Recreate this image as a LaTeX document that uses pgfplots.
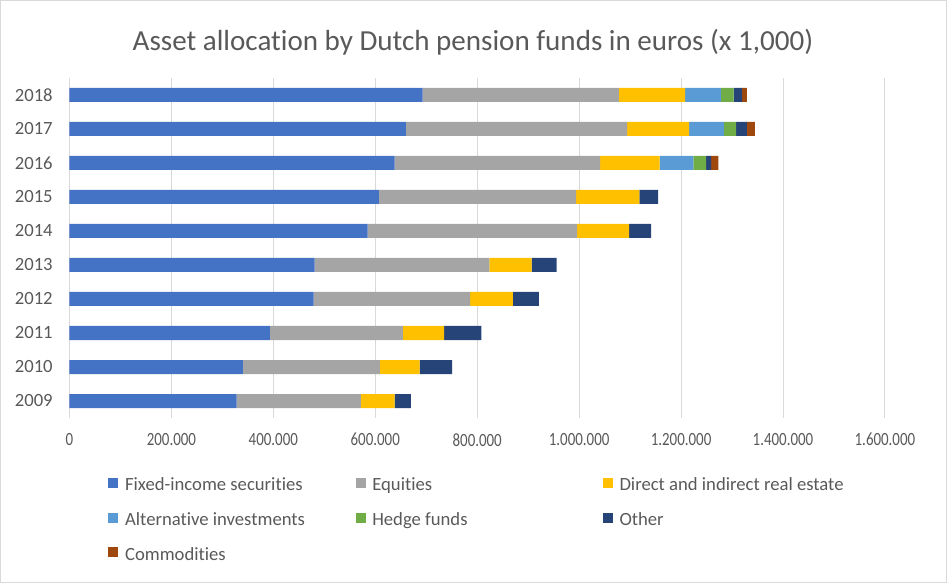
\documentclass[border=0pt]{standalone}
\usepackage{pgfplots}
\pgfplotsset{compat=1.18}
\usepackage{pgfplotstable}
\usepackage{graphicx}
\usepackage{fontspec}
\setmainfont{Carlito}[Ligatures=NoCommon]

\definecolor{txt}{HTML}{595959}
\definecolor{gridc}{HTML}{D9D9D9}
\definecolor{cFix}{HTML}{4472C4}
\definecolor{cEq}{HTML}{A5A5A5}
\definecolor{cRE}{HTML}{FFC000}
\definecolor{cAlt}{HTML}{5B9BD5}
\definecolor{cHedge}{HTML}{70AD47}
\definecolor{cOther}{HTML}{264478}
\definecolor{cComm}{HTML}{9E480E}

% x 1,000 euros
\pgfplotstableread{
year fixed  equities realestate alternative hedge other commodities
2009 328000 244000   66000      0           0     32000 0
2010 340000 269000   78000      0           0     64000 0
2011 393000 261000   81000      0           0     73000 0
2012 479000 307000   84000      0           0     51000 0
2013 481000 343000   83000      0           0     49000 0
2014 585000 411000   102000     0           0     43000 0
2015 607000 387000   124000     0           0     37000 0
2016 638000 403000   117000     66000       25000 10000 14000
2017 660000 434000   122000     68000       24000 21000 16000
2018 693000 385000   130000     70000       25000 17000 9000
}\assets

\begin{document}
\begin{tikzpicture}[x=1pt,y=1pt]
\useasboundingbox (0,0) rectangle (710.25,437.25);
\draw[gridc, line width=0.75pt] (0.375,0.375) rectangle (709.875,436.875);
\node[text=txt, font=\fontsize{21.8}{26}\selectfont, anchor=base, inner sep=0pt]
  at (354.75,399.6) {Asset allocation by Dutch pension funds in euros (x 1,000)};
\begin{axis}[
  at={(52.1pt,123.75pt)}, anchor=south west,
  scale only axis, width=611.6pt, height=255pt,
  xbar stacked, bar width=10.5pt,
  xmin=0, xmax=1600000, ymin=-0.5, ymax=9.5,
  xtick={0,200000,400000,600000,800000,1000000,1200000,1400000,1600000},
  scaled x ticks=false,
  /pgf/number format/.cd, fixed, precision=0, 1000 sep={.}, assume math mode=true, /pgfplots/.cd,
  xticklabel={\scalebox{0.8}[1]{\pgfmathprintnumber{\tick}}},
  xticklabel style={font=\fontsize{14}{16}\selectfont, text=txt, inner sep=0pt, yshift=-11.25pt},
  ytick={0,...,9},
  yticklabels from table={\assets}{year},
  yticklabel style={font=\fontsize{14}{16}\selectfont, text=txt, inner sep=0pt, xshift=-12.4pt},
  xmajorgrids, grid style={gridc, line width=0.75pt},
  axis line style={draw=none}, tick style={draw=none},
  legend columns=3,
  legend cell align=left,
  legend style={at={(axis description cs:0.0478,-0.1735)}, anchor=north west,
    draw=none, fill=none, inner sep=0pt, outer sep=0pt, row sep=12.4pt, column sep=0pt,
    nodes={inner sep=0pt, text height=10.5pt, text depth=3pt,
      font=\fontsize{14}{16}\selectfont, text=txt}},
  legend image code/.code={\fill[#1,draw=none] (0pt,-1.5pt) rectangle (7.5pt,6pt); \path (12.5pt,0pt);},
]
\addplot[fill=cFix, draw=none] table[x=fixed, y expr=\coordindex]{\assets};
\addlegendentry{\makebox[172.9pt][l]{Fixed-income securities}}
\addplot[fill=cEq, draw=none] table[x=equities, y expr=\coordindex]{\assets};
\addlegendentry{\makebox[172.9pt][l]{Equities}}
\addplot[fill=cRE, draw=none] table[x=realestate, y expr=\coordindex]{\assets};
\addlegendentry{\makebox[172.9pt][l]{Direct and indirect real estate}}
\addplot[fill=cAlt, draw=none] table[x=alternative, y expr=\coordindex]{\assets};
\addlegendentry{\makebox[172.9pt][l]{Alternative investments}}
\addplot[fill=cHedge, draw=none] table[x=hedge, y expr=\coordindex]{\assets};
\addlegendentry{\makebox[172.9pt][l]{Hedge funds}}
\addplot[fill=cOther, draw=none] table[x=other, y expr=\coordindex]{\assets};
\addlegendentry{\makebox[172.9pt][l]{Other}}
\addplot[fill=cComm, draw=none] table[x=commodities, y expr=\coordindex]{\assets};
\addlegendentry{\makebox[172.9pt][l]{Commodities}}
\end{axis}
\end{tikzpicture}
\end{document}
